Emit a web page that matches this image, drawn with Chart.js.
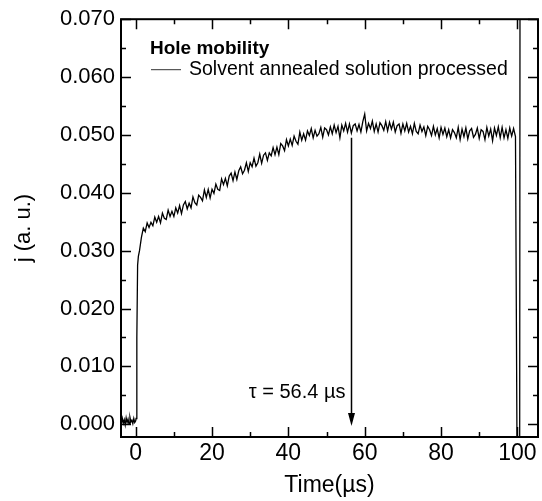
<!DOCTYPE html>
<html>
<head>
<meta charset="utf-8">
<script src="https://cdn.jsdelivr.net/npm/chart.js@4.4.1/dist/chart.umd.min.js"></script>
<style>
	html, body { margin: 0; padding: 0; background: #fff; }
</style>
</head>
<body>
<canvas id="graficoMobilidade" width="542" height="501"></canvas>
<script>
/* Transient photocurrent - hole mobility */
var timeUs = [
	-4, -3.75, -3.5, -3.25, -3, -2.75, -2.5, -2.25, -2, -1.75,
	-1.5, -1.25, -1, -0.75, -0.5, -0.25, 0, 0.1, 0.3, 0.5, 0.7,
	1, 1.5, 2, 2.5, 3, 3.5, 4, 4.5, 5, 5.5,
	6, 6.5, 7, 7.5, 8, 8.5, 9, 9.5, 10, 10.5,
	11, 11.5, 12, 12.5, 13, 13.5, 14, 14.5, 15, 15.5,
	16, 16.5, 17, 17.5, 18, 18.5, 19, 19.5, 20, 20.5,
	21, 21.5, 22, 22.5, 23, 23.5, 24, 24.5, 25, 25.5,
	26, 26.5, 27, 27.5, 28, 28.5, 29, 29.5, 30, 30.5,
	31, 31.5, 32, 32.5, 33, 33.5, 34, 34.5, 35, 35.5,
	36, 36.5, 37, 37.5, 38, 38.5, 39, 39.5, 40, 40.5,
	41, 41.5, 42, 42.5, 43, 43.5, 44, 44.5, 45, 45.5,
	46, 46.5, 47, 47.5, 48, 48.5, 49, 49.5, 50, 50.5,
	51, 51.5, 52, 52.5, 53, 53.5, 54, 54.5, 55, 55.5,
	56, 56.5, 57, 57.5, 58, 58.5, 59, 59.5, 60, 60.5,
	61, 61.5, 62, 62.5, 63, 63.5, 64, 64.5, 65, 65.5,
	66, 66.5, 67, 67.5, 68, 68.5, 69, 69.5, 70, 70.5,
	71, 71.5, 72, 72.5, 73, 73.5, 74, 74.5, 75, 75.5,
	76, 76.5, 77, 77.5, 78, 78.5, 79, 79.5, 80, 80.5,
	81, 81.5, 82, 82.5, 83, 83.5, 84, 84.5, 85, 85.5,
	86, 86.5, 87, 87.5, 88, 88.5, 89, 89.5, 90, 90.5,
	91, 91.5, 92, 92.5, 93, 93.5, 94, 94.5, 95, 95.5,
	96, 96.5, 97, 97.5, 98, 98.5, 99, 99.5,
	99.9, 100.6, 100.7, 105
];

var currentAu = [
	0.0005, 0.0001, 0.0010, 0.0002, 0.0008, -0.0001, 0.0011, 0.0003, 0.0009, 0.0000,
	0.0012, 0.0004, 0.0007, 0.0001, 0.0010, 0.0003, 0.0006, 0.0010, 0.0150, 0.0275, 0.0290,
	0.0300, 0.0323, 0.0339, 0.0333, 0.0348, 0.0340, 0.0349, 0.0343, 0.0358, 0.0349,
	0.0359, 0.0348, 0.0365, 0.0356, 0.0354, 0.0370, 0.0359, 0.0368, 0.0359, 0.0374,
	0.0365, 0.0378, 0.0364, 0.0379, 0.0385, 0.0372, 0.0382, 0.0374, 0.0393, 0.0383,
	0.0379, 0.0396, 0.0392, 0.0386, 0.0405, 0.0392, 0.0406, 0.0391, 0.0406, 0.0399,
	0.0415, 0.0406, 0.0404, 0.0424, 0.0414, 0.0425, 0.0412, 0.0429, 0.0434, 0.0421,
	0.0436, 0.0423, 0.0438, 0.0445, 0.0433, 0.0439, 0.0452, 0.0437, 0.0452, 0.0445,
	0.0460, 0.0446, 0.0452, 0.0467, 0.0451, 0.0465, 0.0469, 0.0456, 0.0469, 0.0464,
	0.0478, 0.0466, 0.0479, 0.0466, 0.0485, 0.0481, 0.0473, 0.0492, 0.0481, 0.0493,
	0.0482, 0.0498, 0.0489, 0.0484, 0.0505, 0.0491, 0.0502, 0.0491, 0.0507, 0.0499,
	0.0511, 0.0495, 0.0508, 0.0498, 0.0502, 0.0513, 0.0496, 0.0512, 0.0509, 0.0500,
	0.0514, 0.0502, 0.0517, 0.0504, 0.0515, 0.0495, 0.0517, 0.0507, 0.0520, 0.0505,
	0.0519, 0.0503, 0.0516, 0.0519, 0.0507, 0.0518, 0.0505, 0.0523, 0.0536, 0.0507,
	0.0520, 0.0511, 0.0524, 0.0506, 0.0519, 0.0505, 0.0521, 0.0516, 0.0508, 0.0523,
	0.0507, 0.0522, 0.0510, 0.0522, 0.0505, 0.0516, 0.0519, 0.0503, 0.0519, 0.0507,
	0.0520, 0.0505, 0.0515, 0.0502, 0.0520, 0.0506, 0.0502, 0.0517, 0.0506, 0.0514,
	0.0499, 0.0515, 0.0509, 0.0499, 0.0515, 0.0500, 0.0511, 0.0495, 0.0513, 0.0501,
	0.0512, 0.0497, 0.0509, 0.0495, 0.0509, 0.0504, 0.0495, 0.0513, 0.0492, 0.0510,
	0.0497, 0.0512, 0.0493, 0.0507, 0.0511, 0.0496, 0.0501, 0.0512, 0.0494, 0.0509,
	0.0506, 0.0492, 0.0513, 0.0498, 0.0510, 0.0490, 0.0512, 0.0499, 0.0514, 0.0495,
	0.0513, 0.0495, 0.0509, 0.0494, 0.0512, 0.0498, 0.0511, 0.0497,
	-0.0040, -0.0040, 0.0900, 0.0900
];

var xTicks = [0, 20, 40, 60, 80, 100];
var xMinorTicks = [10, 30, 50, 70, 90];
var yTicks = [0, 0.01, 0.02, 0.03, 0.04, 0.05, 0.06, 0.07];
var yMinorTicks = [0.005, 0.015, 0.025, 0.035, 0.045, 0.055, 0.065];

var tauTime = 56.4;
var tauArrowFrom = 0.0495;
var tauArrowTo = -0.0003;
var tauLabel = 'τ = 56.4 µs';
var legendTitle = 'Hole mobility';
var seriesLabel = 'Solvent annealed solution processed';

var FONTE = '"Liberation Sans", Arial, Helvetica, sans-serif';

/* moldura, ticks para dentro, seta e legenda */
var molduraPlugin = {
	id: 'moldura',
	afterDatasetsDraw: function(chart) {
		var ctx = chart.ctx;
		var a = chart.chartArea;
		var sx = chart.scales.x;
		var sy = chart.scales.y;

		ctx.save();
		ctx.strokeStyle = '#000';
		ctx.lineWidth = 1.5;

		function tickX(v, len) {
			var px = Math.round(sx.getPixelForValue(v)) + 0.5;
			ctx.beginPath();
			ctx.moveTo(px, a.bottom); ctx.lineTo(px, a.bottom - len);
			ctx.moveTo(px, a.top); ctx.lineTo(px, a.top + len);
			ctx.stroke();
		}
		function tickY(v, len) {
			var py = Math.round(sy.getPixelForValue(v)) + 0.5;
			ctx.beginPath();
			ctx.moveTo(a.left, py); ctx.lineTo(a.left + len, py);
			ctx.moveTo(a.right, py); ctx.lineTo(a.right - len, py);
			ctx.stroke();
		}
		xTicks.forEach(function(v) { tickX(v, 10); });
		xMinorTicks.forEach(function(v) { tickX(v, 5); });
		yTicks.forEach(function(v) { tickY(v, 10); });
		yMinorTicks.forEach(function(v) { tickY(v, 5); });

		ctx.lineWidth = 2;
		ctx.strokeRect(a.left, a.top, a.right - a.left, a.bottom - a.top);

		// seta do tempo de transito
		var ax = Math.round(sx.getPixelForValue(tauTime)) + 0.5;
		var ay1 = sy.getPixelForValue(tauArrowFrom);
		var ay2 = sy.getPixelForValue(tauArrowTo);
		ctx.lineWidth = 1.5;
		ctx.beginPath();
		ctx.moveTo(ax, ay1);
		ctx.lineTo(ax, ay2 - 10);
		ctx.stroke();
		ctx.fillStyle = '#000';
		ctx.beginPath();
		ctx.moveTo(ax - 3.5, ay2 - 13);
		ctx.lineTo(ax + 3.5, ay2 - 13);
		ctx.lineTo(ax, ay2);
		ctx.closePath();
		ctx.fill();

		ctx.font = '20px ' + FONTE;
		ctx.textAlign = 'right';
		ctx.textBaseline = 'middle';
		ctx.fillText(tauLabel, ax - 6, sy.getPixelForValue(0.0055));

		// legenda
		ctx.textAlign = 'left';
		ctx.font = 'bold 19px ' + FONTE;
		ctx.fillText(legendTitle, a.left + 29, a.top + 30);
		ctx.font = '19.5px ' + FONTE;
		ctx.fillText(seriesLabel, a.left + 68, a.top + 50);
		ctx.lineWidth = 1;
		ctx.strokeStyle = '#333';
		ctx.beginPath();
		ctx.moveTo(a.left + 30, a.top + 50.5);
		ctx.lineTo(a.left + 60, a.top + 50.5);
		ctx.stroke();
		ctx.restore();
	}
};

(function() {
	var pontos = timeUs.map(function(t, i) {
		return { x: t, y: currentAu[i] };
	});

	var ctx = document.getElementById('graficoMobilidade').getContext('2d');
	var grafico = new Chart(ctx, {
		type: 'line',
		data: {
			datasets: [{
				label: seriesLabel,
				data: pontos,
				borderColor: '#000',
				borderWidth: 1.3,
				pointRadius: 0,
				tension: 0,
				fill: false
			}]
		},
		options: {
			responsive: false,
			animation: false,
			devicePixelRatio: 1,
			layout: { padding: { top: 19, right: 4, left: 0, bottom: 0 } },
			plugins: {
				legend: { display: false },
				tooltip: { enabled: false }
			},
			scales: {
				x: {
					type: 'linear',
					min: -3.85,
					max: 105.4,
					grid: { display: false, drawTicks: false },
					border: { display: false },
					afterBuildTicks: function(s) {
						s.ticks = xTicks.map(function(v) { return { value: v }; });
					},
					afterFit: function(s) { s.height = 64; },
					ticks: {
						autoSkip: false,
						maxRotation: 0,
						padding: 3,
						color: '#000',
						font: { family: FONTE, size: 23 },
						callback: function(v) { return String(v); }
					},
					title: {
						display: true,
						text: 'Time(µs)',
						color: '#000',
						font: { family: FONTE, size: 23 },
						padding: { top: 0, bottom: 2 }
					}
				},
				y: {
					min: -0.0022,
					max: 0.070,
					grid: { display: false, drawTicks: false },
					border: { display: false },
					afterBuildTicks: function(s) {
						s.ticks = yTicks.map(function(v) { return { value: v }; });
					},
					afterFit: function(s) { s.width = 121; },
					ticks: {
						autoSkip: false,
						padding: 6,
						color: '#000',
						font: { family: FONTE, size: 22 },
						callback: function(v) { return v.toFixed(3); }
					},
					title: {
						display: true,
						text: 'j (a. u.)',
						color: '#000',
						font: { family: FONTE, size: 22 },
						padding: { top: 11, bottom: 0 }
					}
				}
			}
		},
		plugins: [molduraPlugin]
	});
})();
</script>
</body>
</html>
